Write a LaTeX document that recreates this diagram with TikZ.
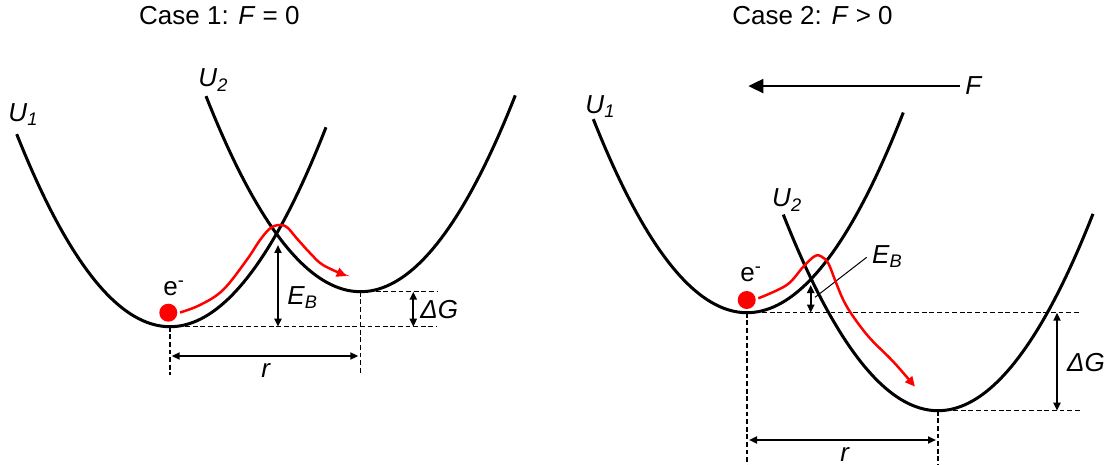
\documentclass[tikz,border=0pt]{standalone}
\usepackage{fontspec}
\setmainfont{Liberation Sans}
\usetikzlibrary{arrows.meta}

\begin{document}
\begin{tikzpicture}[
    x=0.5pt, y=-0.5pt,
    well/.style={line width=1.5pt},
    hop/.style={red, line width=1.25pt, -{Triangle[length=5pt,width=4.5pt]}},
    dim/.style={line width=1pt, {Triangle[length=4pt,width=3.5pt]}-{Triangle[length=4pt,width=3.5pt]}},
    farr/.style={line width=1pt, -{Triangle[length=7.5pt,width=7pt]}},
    guide/.style={line width=0.6pt, dash pattern=on 2.4pt off 1.4pt},
    lead/.style={line width=0.5pt},
    lbl/.style={font=\fontsize{13}{15}\selectfont, inner sep=0pt, anchor=base west},
    dot/.style={circle, fill=red, inner sep=0pt, minimum size=9pt}
]
\useasboundingbox (0,0) rectangle (1115,465);

% titles
\node[lbl, anchor=base] (T1) at (219.4,25) {Case 1: \textit{F} = 0};
\node[lbl, anchor=base] (T2) at (812.5,25) {Case 2: \textit{F} > 0};

% case 1: F = 0
\coordinate (A1) at (170,326.7);
\coordinate (A2) at (360.5,291.7);
\coordinate (A1h) at (437,326.7);
\coordinate (A2h) at (437,291.7);
\coordinate (A1v) at (170,375);
\coordinate (A2v) at (360.5,375);
\draw[guide] (A1) -- (A1h);
\draw[guide] (A2) -- (A2h);
\draw[guide] (A1) -- (A1v);
\draw[guide] (A2) -- (A2v);

\draw[well] plot[domain=16.7:326, samples=80] (\x, {326.7-0.0082*(\x-170)*(\x-170)});
\draw[well] plot[domain=206:515.3, samples=80] (\x, {291.7-0.0082*(\x-360.5)*(\x-360.5)});

\node[lbl] (U1a) at (8,121.5) {\textit{U}\textsubscript{\textit{1}}};
\node[lbl] (U2a) at (198,86.7) {\textit{U}\textsubscript{\textit{2}}};

\coordinate (EBat) at (278,245);
\coordinate (EBab) at (278,326.7);
\draw[dim] (EBat) -- (EBab);
\node[lbl] (EBa) at (287,304) {\textit{E}\textsubscript{\textit{B}}};

\coordinate (DGat) at (413.3,291.7);
\coordinate (DGab) at (413.3,326.7);
\draw[dim] (DGat) -- (DGab);
\node[lbl] (DGa) at (420,318.3) {\textit{ΔG}};

\coordinate (Ral) at (171.7,356);
\coordinate (Rar) at (358.3,356);
\draw[dim] (Ral) -- (Rar);
\node[lbl] (Ra) at (261,377.5) {\textit{r}};

\node[dot] (D1) at (168.3,312.7) {};
\node[lbl] (Ea) at (163,295.5) {e\textsuperscript{-}};
\draw[hop] plot[smooth, tension=0.6] coordinates {(180,312.5) (200,305) (223,290) (246.7,260) (260,240) (270,228.5) (278.3,225) (286.7,227) (296.7,238.3) (310,253) (323,265) (346.7,276)};

% case 2: F > 0
\coordinate (B1) at (747,312.7);
\coordinate (B2) at (938,410.7);
\coordinate (B1h) at (1080,312.7);
\coordinate (B2h) at (1080,410.7);
\coordinate (B1v) at (747,470);
\coordinate (B2v) at (938,470);
\draw[guide] (B1) -- (B1h);
\draw[guide] (B2) -- (B2h);
\draw[guide] (B1) -- (B1v);
\draw[guide] (B2) -- (B2v);

\draw[well] plot[domain=593.3:903.3, samples=80] (\x, {312.7-0.0082*(\x-747)*(\x-747)});
\draw[well] plot[domain=783.3:1093, samples=80] (\x, {410.7-0.0082*(\x-938)*(\x-938)});

\node[lbl] (U1b) at (585,113.3) {\textit{U}\textsubscript{\textit{1}}};
\node[lbl] (U2b) at (771.7,206.7) {\textit{U}\textsubscript{\textit{2}}};

\node[lbl] (F) at (965,95) {\textit{F}};
\coordinate (Ftip) at (748.3,85);
\draw[farr, shorten <=2.5pt] (F.west) -- (F.west -| Ftip);

\coordinate (EBbt) at (810.7,285);
\coordinate (EBbb) at (810.7,312.7);
\draw[dim] (EBbt) -- (EBbb);
\node[lbl] (EBb) at (871.7,263.3) {\textit{E}\textsubscript{\textit{B}}};
\coordinate (Lb1) at (866.7,257.3);
\coordinate (Lb2) at (815,297.3);
\draw[lead] (Lb1) -- (Lb2);

\coordinate (DGbt) at (1057,312.7);
\coordinate (DGbb) at (1057,410.7);
\draw[dim] (DGbt) -- (DGbb);
\node[lbl] (DGb) at (1066.7,371.7) {\textit{ΔG}};

\coordinate (Rbl) at (749,440);
\coordinate (Rbr) at (936,440);
\draw[dim] (Rbl) -- (Rbr);
\node[lbl] (Rb) at (840,461) {\textit{r}};

\node[dot] (D2) at (746.7,300) {};
\node[lbl] (Eb) at (740,281.7) {e\textsuperscript{-}};
\draw[hop] plot[smooth, tension=0.6] coordinates {(758.3,298.3) (786.7,285) (803.3,266.7) (815,256) (821.7,256.7) (828.3,263.3) (835,280) (843.3,300) (853.3,316.7) (870,338.3) (893.3,361.7) (915,386.7)};
\end{tikzpicture}
\end{document}
